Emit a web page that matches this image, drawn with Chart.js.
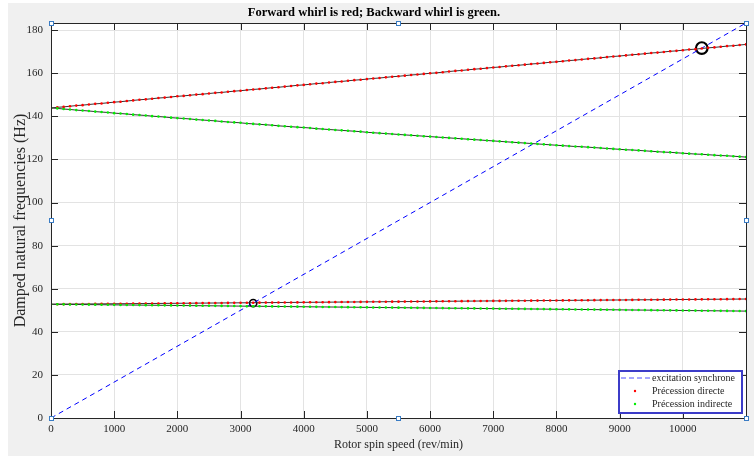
<!DOCTYPE html>
<html>
<head>
<meta charset="utf-8">
<script src="https://cdn.jsdelivr.net/npm/chart.js@4.4.1/dist/chart.umd.min.js"></script>
<style>
  html, body { margin: 0; padding: 0; background: #ffffff; }
  #wrap { position: relative; width: 754px; height: 457px; }
  #bg { position: absolute; left: 8px; top: 3px; right: 0; bottom: 1px; background: #f0f0f0; }
  canvas { position: absolute; left: 0; top: 0; }
</style>
</head>
<body>
<div id="wrap">
  <div id="bg"></div>
  <canvas id="c" width="754" height="457"></canvas>
</div>
<script>
// ---- data ----
const speeds = [0,100,200,300,400,500,600,700,800,900,1000,1100,1200,1300,1400,1500,1600,1700,1800,1900,
  2000,2100,2200,2300,2400,2500,2600,2700,2800,2900,3000,3100,3200,3300,3400,3500,3600,3700,3800,3900,
  4000,4100,4200,4300,4400,4500,4600,4700,4800,4900,5000,5100,5200,5300,5400,5500,5600,5700,5800,5900,
  6000,6100,6200,6300,6400,6500,6600,6700,6800,6900,7000,7100,7200,7300,7400,7500,7600,7700,7800,7900,
  8000,8100,8200,8300,8400,8500,8600,8700,8800,8900,9000,9100,9200,9300,9400,9500,9600,9700,9800,9900,
  10000,10100,10200,10300,10400,10500,10600,10700,10800,10900,11000];

// mode 1, forward whirl (red)
const forward1 = [143.9,144.2,144.4,144.7,145.0,145.2,145.5,145.8,146.0,146.3,
  146.6,146.8,147.1,147.4,147.7,147.9,148.2,148.5,148.7,149.0,
  149.3,149.5,149.8,150.1,150.3,150.6,150.9,151.1,151.4,151.7,
  151.9,152.2,152.5,152.7,153.0,153.3,153.5,153.8,154.1,154.4,
  154.6,154.9,155.2,155.4,155.7,156.0,156.2,156.5,156.8,157.0,
  157.3,157.6,157.8,158.1,158.4,158.6,158.9,159.2,159.4,159.7,
  160.0,160.2,160.5,160.8,161.1,161.3,161.6,161.9,162.1,162.4,
  162.7,162.9,163.2,163.5,163.7,164.0,164.3,164.5,164.8,165.1,
  165.3,165.6,165.9,166.1,166.4,166.7,166.9,167.2,167.5,167.8,
  168.0,168.3,168.6,168.8,169.1,169.4,169.6,169.9,170.2,170.4,
  170.7,171.0,171.2,171.5,171.8,172.0,172.3,172.6,172.8,173.1,173.4];

// mode 1, backward whirl (green)
const backward1 = [143.9,143.7,143.4,143.2,142.9,142.7,142.5,142.2,142.0,141.8,
  141.5,141.3,141.1,140.8,140.6,140.4,140.1,139.9,139.7,139.4,
  139.2,139.0,138.8,138.5,138.3,138.1,137.9,137.6,137.4,137.2,
  137.0,136.7,136.5,136.3,136.1,135.9,135.6,135.4,135.2,135.0,
  134.8,134.6,134.3,134.1,133.9,133.7,133.5,133.3,133.1,132.9,
  132.6,132.4,132.2,132.0,131.8,131.6,131.4,131.2,131.0,130.8,
  130.6,130.4,130.2,130.0,129.8,129.6,129.4,129.2,129.0,128.8,
  128.6,128.4,128.2,128.0,127.8,127.6,127.4,127.2,127.0,126.8,
  126.6,126.4,126.2,126.0,125.9,125.7,125.5,125.3,125.1,124.9,
  124.7,124.5,124.4,124.2,124.0,123.8,123.6,123.4,123.3,123.1,
  122.9,122.7,122.5,122.4,122.2,122.0,121.8,121.7,121.5,121.3,121.1];

// mode 2, forward whirl (red)
const forward2 = [52.80,52.82,52.84,52.87,52.89,52.91,52.93,52.95,52.98,53.00,
  53.02,53.04,53.06,53.09,53.11,53.13,53.15,53.17,53.20,53.22,
  53.24,53.26,53.28,53.31,53.33,53.35,53.37,53.39,53.42,53.44,
  53.46,53.48,53.50,53.53,53.55,53.57,53.59,53.61,53.64,53.66,
  53.68,53.70,53.72,53.75,53.77,53.79,53.81,53.83,53.86,53.88,
  53.90,53.92,53.94,53.97,53.99,54.01,54.03,54.05,54.08,54.10,
  54.12,54.14,54.16,54.19,54.21,54.23,54.25,54.27,54.30,54.32,
  54.34,54.36,54.38,54.41,54.43,54.45,54.47,54.49,54.52,54.54,
  54.56,54.58,54.60,54.63,54.65,54.67,54.69,54.71,54.74,54.76,
  54.78,54.80,54.82,54.85,54.87,54.89,54.91,54.93,54.96,54.98,
  55.00,55.02,55.04,55.07,55.09,55.11,55.13,55.15,55.18,55.20,55.22];

// mode 2, backward whirl (green)
const backward2 = [52.80,52.77,52.74,52.71,52.68,52.66,52.63,52.60,52.57,52.54,
  52.51,52.48,52.45,52.42,52.39,52.37,52.34,52.31,52.28,52.25,
  52.22,52.19,52.16,52.13,52.10,52.08,52.05,52.02,51.99,51.96,
  51.93,51.90,51.87,51.84,51.81,51.79,51.76,51.73,51.70,51.67,
  51.64,51.61,51.58,51.55,51.52,51.50,51.47,51.44,51.41,51.38,
  51.35,51.32,51.29,51.26,51.23,51.21,51.18,51.15,51.12,51.09,
  51.06,51.03,51.00,50.97,50.94,50.92,50.89,50.86,50.83,50.80,
  50.77,50.74,50.71,50.68,50.65,50.63,50.60,50.57,50.54,50.51,
  50.48,50.45,50.42,50.39,50.36,50.34,50.31,50.28,50.25,50.22,
  50.19,50.16,50.13,50.10,50.07,50.05,50.02,49.99,49.96,49.93,
  49.90,49.87,49.84,49.81,49.78,49.76,49.73,49.70,49.67,49.64,49.61];

// synchronous excitation line (1X)
const syncSpeeds = [0, 11000];
const syncFreqs = [0, 183.33];

// critical speeds (circles)
const critSpeeds = [3200, 10300];
const critFreqs = [53.3, 171.7];

const xTicks = [0,1000,2000,3000,4000,5000,6000,7000,8000,9000,10000];
const yTicks = [0,20,40,60,80,100,120,140,160,180];

const titleText = 'Forward whirl is red; Backward whirl is green.';
const xTitle = 'Rotor spin speed (rev/min)';
const yTitle = 'Damped natural frequencies (Hz)';
const legendLabels = ['excitation synchrone', 'Précession directe', 'Précession indirecte'];

// ---- build ----
const pts = (xs, ys) => xs.map((x, i) => ({x: x, y: ys[i]}));
const SERIF = "'Liberation Serif', 'Times New Roman', serif";
const TXT = '#262626';

function curve(values, color) {
  return {
    data: pts(speeds, values),
    borderColor: '#333333',
    borderWidth: 1,
    pointRadius: 1.3,
    pointBackgroundColor: color,
    pointBorderWidth: 0,
    pointHoverRadius: 1.3,
    showLine: true,
    tension: 0
  };
}

const datasets = [
  curve(backward1, '#00ee00'),
  curve(backward2, '#00ee00'),
  curve(forward1, '#ff0000'),
  curve(forward2, '#ff0000'),
  {
    data: pts(syncSpeeds, syncFreqs),
    borderColor: '#0000ff',
    borderWidth: 1,
    borderDash: [5, 4],
    pointRadius: 0,
    showLine: true
  },
  {
    data: pts(critSpeeds, critFreqs),
    showLine: false,
    pointStyle: 'circle',
    pointRadius: [3.6, 5.8],
    pointBorderWidth: [1.6, 2.2],
    pointBorderColor: '#000000',
    pointBackgroundColor: 'rgba(0,0,0,0)',
    pointHoverRadius: [3.6, 5.8]
  }
];

const framePlugin = {
  id: 'frame',
  beforeDraw(chart) {
    const {ctx, chartArea: a} = chart;
    ctx.save();
    ctx.fillStyle = '#ffffff';
    ctx.fillRect(a.left, a.top, a.right - a.left, a.bottom - a.top);
    ctx.restore();
  },
  afterDatasetsDraw(chart) {
    const {ctx, chartArea: a, scales} = chart;
    ctx.save();
    ctx.strokeStyle = TXT;
    ctx.lineWidth = 1;
    ctx.beginPath();
    ctx.rect(Math.round(a.left) + 0.5, Math.round(a.top) + 0.5,
             Math.round(a.right - a.left), Math.round(a.bottom - a.top));
    ctx.stroke();
    // inward ticks on all sides
    const tl = 7;
    ctx.beginPath();
    xTicks.forEach(v => {
      const px = Math.round(scales.x.getPixelForValue(v)) + 0.5;
      ctx.moveTo(px, a.bottom); ctx.lineTo(px, a.bottom - tl);
      ctx.moveTo(px, a.top); ctx.lineTo(px, a.top + tl);
    });
    yTicks.forEach(v => {
      const py = Math.round(scales.y.getPixelForValue(v)) + 0.5;
      ctx.moveTo(a.left, py); ctx.lineTo(a.left + tl, py);
      ctx.moveTo(a.right, py); ctx.lineTo(a.right - tl, py);
    });
    ctx.stroke();
    ctx.restore();
  },
  afterDraw(chart) {
    const {ctx, chartArea: a} = chart;
    ctx.save();
    // legend box
    const w = 123, h = 42;
    const lx = a.right - 4 - w, ly = a.bottom - 5 - h;
    ctx.fillStyle = '#ffffff';
    ctx.fillRect(lx, ly, w, h);
    ctx.strokeStyle = '#3c3cc8';
    ctx.lineWidth = 2;
    ctx.strokeRect(lx, ly, w, h);
    ctx.font = '10px ' + SERIF;
    ctx.fillStyle = TXT;
    ctx.textBaseline = 'middle';
    ctx.textAlign = 'left';
    const rows = [ly + 7, ly + 20, ly + 33];
    ctx.strokeStyle = '#5050ff';
    ctx.lineWidth = 1;
    ctx.setLineDash([5, 3]);
    ctx.beginPath();
    ctx.moveTo(lx + 2, rows[0]); ctx.lineTo(lx + 31, rows[0]);
    ctx.stroke();
    ctx.setLineDash([]);
    ctx.fillStyle = '#ff0000';
    ctx.beginPath(); ctx.arc(lx + 16, rows[1], 1.2, 0, Math.PI * 2); ctx.fill();
    ctx.fillStyle = '#00ee00';
    ctx.beginPath(); ctx.arc(lx + 16, rows[2], 1.2, 0, Math.PI * 2); ctx.fill();
    ctx.fillStyle = TXT;
    legendLabels.forEach((t, i) => ctx.fillText(t, lx + 33, rows[i]));
    // selection handles
    const hs = 5;
    const xs = [a.left, (a.left + a.right) / 2, a.right];
    const ys = [a.top, (a.top + a.bottom) / 2, a.bottom];
    ctx.strokeStyle = '#3a7cc4';
    ctx.fillStyle = '#ffffff';
    ctx.lineWidth = 1;
    xs.forEach((x, i) => ys.forEach((y, j) => {
      if (i === 1 && j === 1) return;
      const rx = Math.round(x - hs / 2) + 0.5, ry = Math.round(y - hs / 2) + 0.5;
      ctx.fillRect(rx, ry, hs - 1, hs - 1);
      ctx.strokeRect(rx, ry, hs - 1, hs - 1);
    }));
    ctx.restore();
  }
};

new Chart(document.getElementById('c'), {
  type: 'scatter',
  data: { datasets: datasets },
  plugins: [framePlugin],
  options: {
    responsive: false,
    animation: false,
    events: [],
    layout: { padding: { top: 0, right: 6, left: 0, bottom: 0 } },
    plugins: {
      legend: { display: false },
      tooltip: { enabled: false },
      title: {
        display: true,
        text: titleText,
        color: '#000000',
        font: { family: SERIF, size: 12.5, weight: 'bold', lineHeight: 1.2 },
        padding: { top: 5, bottom: 3 }
      }
    },
    scales: {
      x: {
        type: 'linear',
        min: 0, max: 11000,
        afterBuildTicks: s => { s.ticks = xTicks.map(v => ({value: v})); },
        afterFit: s => { s.height = 39; },
        grid: { color: '#e3e3e3', drawTicks: false },
        border: { color: TXT, width: 1 },
        ticks: { color: TXT, font: { family: SERIF, size: 11 }, padding: 5, maxRotation: 0, autoSkip: false,
                 callback: v => String(v) },
        title: { display: true, text: xTitle, color: TXT, font: { family: SERIF, size: 12 }, padding: { top: 0, bottom: 5 } }
      },
      y: {
        type: 'linear',
        min: 0, max: 183.33,
        afterBuildTicks: s => { s.ticks = yTicks.map(v => ({value: v})); },
        afterFit: s => { s.width = 51; },
        grid: { color: '#e3e3e3', drawTicks: false },
        border: { color: TXT, width: 1 },
        ticks: { color: TXT, font: { family: SERIF, size: 11 }, padding: 8, autoSkip: false,
                 callback: v => String(v) },
        title: { display: true, text: yTitle, color: TXT, font: { family: SERIF, size: 16 }, padding: { top: 11, bottom: 0 } }
      }
    }
  }
});
</script>
</body>
</html>
